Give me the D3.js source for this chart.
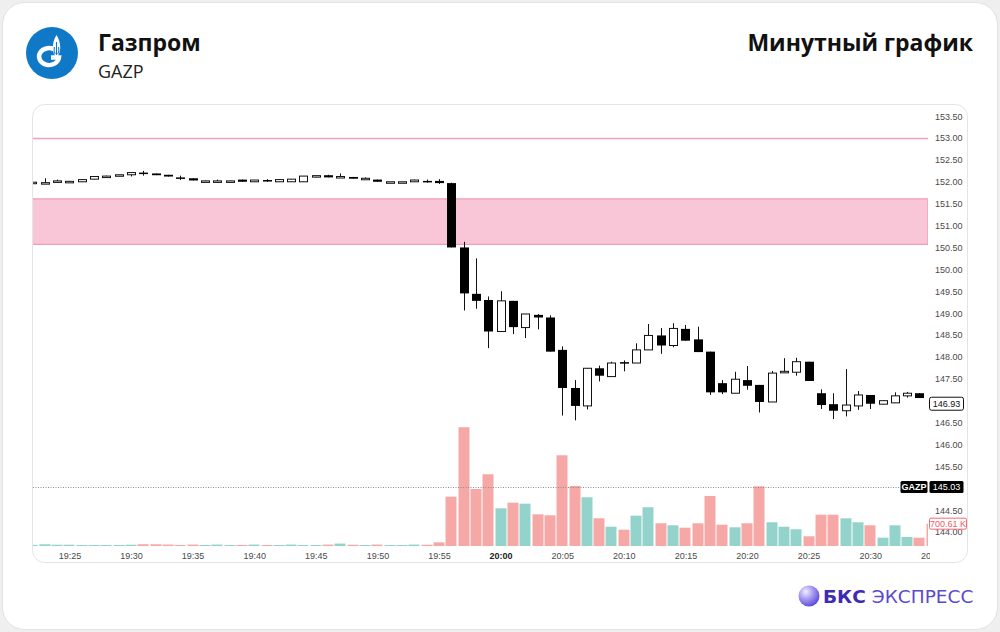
<!DOCTYPE html>
<html>
<head>
<meta charset="utf-8">
<script src="https://cdn.jsdelivr.net/npm/d3@7"></script>
<style>
  body { margin: 0; background: #efefef; }
  svg { display: block; font-family: "Open Sans", sans-serif; }
</style>
</head>
<body>
<svg id="chart" width="1000" height="632"></svg>
<script>
// minute candles, GAZP
const times = ["19:22","19:23","19:24","19:25","19:26","19:27","19:28","19:29","19:30","19:31",
  "19:32","19:33","19:34","19:35","19:36","19:37","19:38","19:39","19:40","19:41",
  "19:42","19:43","19:44","19:45","19:46","19:47","19:48","19:49","19:50","19:51",
  "19:52","19:53","19:54","19:55","19:56","19:57","19:58","19:59","20:00","20:01",
  "20:02","20:03","20:04","20:05","20:06","20:07","20:08","20:09","20:10","20:11",
  "20:12","20:13","20:14","20:15","20:16","20:17","20:18","20:19","20:20","20:21",
  "20:22","20:23","20:24","20:25","20:26","20:27","20:28","20:29","20:30","20:31",
  "20:32","20:33","20:34","20:35"];
const opens = [151.96,151.98,152.02,152.01,152.00,152.06,152.13,152.13,152.16,152.21,
  152.19,152.16,152.10,152.08,152.02,152.02,152.02,152.05,152.00,152.04,
  152.00,152.00,152.00,152.14,152.15,152.12,152.11,152.08,152.05,152.00,
  152.00,152.00,152.02,152.02,151.97,150.50,149.44,149.30,148.58,149.28,
  148.67,148.96,148.90,148.16,147.29,146.88,147.74,147.55,147.88,147.86,
  148.16,148.49,148.26,148.64,148.40,148.12,147.40,147.17,147.47,147.36,
  146.97,147.67,147.65,147.89,147.17,146.92,146.77,146.88,147.13,146.92,
  146.95,147.11,147.17,147.06];
const highs = [151.99,152.08,152.05,152.02,152.05,152.12,152.14,152.16,152.21,152.25,
  152.19,152.16,152.14,152.08,152.03,152.05,152.03,152.05,152.04,152.06,
  152.05,152.06,152.13,152.14,152.16,152.19,152.11,152.10,152.05,152.00,
  152.00,152.05,152.05,152.06,151.98,150.63,150.25,149.38,149.50,149.28,
  148.98,148.98,148.95,148.24,147.47,147.74,147.80,147.89,147.92,148.31,
  148.75,148.66,148.77,148.73,148.69,148.12,147.47,147.66,147.79,147.36,
  147.68,147.97,147.98,147.89,147.26,147.17,147.72,147.22,147.13,147.00,
  147.19,147.20,147.17,147.08];
const lows = [151.96,151.98,152.00,152.01,152.00,152.06,152.12,152.13,152.12,152.14,
  152.15,152.12,152.04,152.03,152.02,152.00,152.02,152.00,152.00,152.00,
  152.00,152.00,152.00,152.10,152.10,152.12,152.07,152.06,152.00,152.00,
  152.00,152.00,151.98,151.95,150.50,149.06,149.10,148.20,148.58,148.52,
  148.43,148.63,148.12,146.66,146.55,146.80,147.44,147.55,147.67,147.86,
  148.16,148.07,148.22,148.37,148.11,147.13,147.15,147.17,147.25,146.73,
  146.97,147.63,147.57,147.45,146.81,146.58,146.64,146.79,146.81,146.92,
  146.95,147.07,147.06,146.93];
const closes = [151.99,151.98,152.02,152.01,152.05,152.12,152.13,152.16,152.21,152.19,
  152.15,152.12,152.09,152.03,152.02,152.02,152.02,152.00,152.04,152.03,
  152.05,152.06,152.13,152.14,152.10,152.12,152.07,152.08,152.00,152.00,
  152.00,152.04,152.01,151.97,150.50,149.45,149.28,148.58,149.28,148.68,
  148.98,148.90,148.12,147.29,146.88,147.74,147.57,147.86,147.86,148.16,
  148.49,148.26,148.65,148.37,148.11,147.19,147.19,147.49,147.34,146.97,
  147.63,147.67,147.89,147.45,146.90,146.77,146.90,147.13,146.93,147.00,
  147.11,147.17,147.06,146.93];
// volume, thousands of shares
const volumes = [35,55,40,40,30,30,30,30,40,55,
  55,45,30,45,30,45,30,30,45,30,
  30,45,30,30,45,75,40,30,45,30,
  30,45,40,115,1549,3729,1790,2252,1184,1360,
  1329,996,964,2849,1885,1530,870,606,512,952,
  1216,713,650,575,713,1571,669,587,713,1875,
  745,606,525,305,983,983,870,745,650,261,
  650,283,261,700.61];

// 147.00 and 145.00 sit under the price labels, so they are not shown
const priceTicks = [144,144.5,145.5,146,146.5,147.5,148,148.5,149,149.5,150,150.5,151,151.5,152,152.5,153,153.5];
const timeTicks = ["19:25","19:30","19:35","19:40","19:45","19:50","19:55","20:00","20:05","20:10","20:15","20:20","20:25","20:30","20:35"];
const levelLine = 153.00;
const zoneTop = 151.61, zoneBottom = 150.57;
const refLine = 145.03;
const lastVolumeLabel = "700.61 K";

const svg = d3.select("#chart");
const parseT = d3.timeParse("%H:%M");
const axisFont = "Liberation Sans, Arial, sans-serif";

// card
svg.append("rect").attr("x", 2.5).attr("y", 2.5).attr("width", 995).attr("height", 627)
  .attr("rx", 22).attr("fill", "#fff").attr("stroke", "#e2e2e2");
const defs = svg.append("defs");

// header
const logo = svg.append("g").attr("transform", "translate(52,53)");
logo.append("circle").attr("r", 26).attr("fill", "#0f79c8");
logo.append("path").attr("d", "M 3.4 -3 A 10 8.5 0 1 0 7 4.5 L -1 4.5")
  .attr("fill", "none").attr("stroke", "#fff").attr("stroke-width", 4.4);
logo.append("path").attr("d", "M 4.5 -18 C 9.5 -10 9.5 0 4.5 4 C -0.5 0 -0.5 -10 4.5 -18 Z").attr("fill", "#fff");
logo.append("path").attr("d", "M 4.5 -11 L 4.5 2 M 2.4 -6 C 1.7 -3 2 -1 3.2 1 M 6.6 -6 C 7.3 -3 7 -1 5.8 1")
  .attr("fill", "none").attr("stroke", "#0f79c8").attr("stroke-width", 1.1);

svg.append("text").attr("x", 98).attr("y", 51).attr("font-size", 23).attr("font-weight", 700)
  .attr("fill", "#111").text("Газпром");
svg.append("text").attr("x", 98).attr("y", 78).attr("font-size", 18)
  .attr("fill", "#222").text("GAZP");
svg.append("text").attr("x", 973).attr("y", 51).attr("font-size", 23).attr("font-weight", 700)
  .attr("text-anchor", "end").attr("fill", "#111").text("Минутный график");

// chart panel
svg.append("rect").attr("x", 32.5).attr("y", 104.5).attr("width", 935).attr("height", 458)
  .attr("rx", 12).attr("fill", "#fff").attr("stroke", "#e4e4e4");

const x = d3.scaleTime().domain([parseT("19:55"), parseT("20:30")]).range([439, 870.2]);
const y = d3.scaleLinear().domain([144, 153]).range([532, 138]);
const yv = d3.scaleLinear().domain([0, 4000]).range([546, 418.6]);

defs.append("clipPath").attr("id", "plot")
  .append("rect").attr("x", 33).attr("y", 105).attr("width", 895).attr("height", 442);
// in the axis group's own coordinates (it is translated to y=547)
defs.append("clipPath").attr("id", "timeClip")
  .append("rect").attr("x", 33).attr("y", 0).attr("width", 897).attr("height", 16);

const plot = svg.append("g").attr("clip-path", "url(#plot)");

// price axis labels
const yAxis = svg.append("g").attr("transform", "translate(928,0)")
  .call(d3.axisRight(y).tickValues(priceTicks).tickFormat(d3.format(".2f")).tickSize(0).tickPadding(7));
yAxis.select(".domain").remove();
yAxis.selectAll("text").attr("font-family", axisFont)
  .attr("font-size", 9).attr("fill", "#4a4a4a");

// time axis labels
const isHour = d => d3.timeFormat("%M")(d) === "00";
const xAxis = svg.append("g").attr("transform", "translate(0,547)").attr("clip-path", "url(#timeClip)")
  .call(d3.axisBottom(x).tickValues(timeTicks.map(parseT)).tickFormat(d3.timeFormat("%H:%M")).tickSize(0).tickPadding(6));
xAxis.select(".domain").remove();
xAxis.selectAll("text").attr("font-family", axisFont).attr("font-size", 9)
  .attr("font-weight", d => isHour(d) ? 700 : 400)
  .attr("fill", d => isHour(d) ? "#222" : "#4a4a4a");

// level line and zone
plot.append("line").attr("x1", 32).attr("x2", 928).attr("y1", Math.round(y(levelLine)) + 0.5).attr("y2", Math.round(y(levelLine)) + 0.5)
  .attr("stroke", "#f5a0bf").attr("stroke-width", 1.3);
plot.append("rect").attr("x", 32).attr("width", 896)
  .attr("y", y(zoneTop)).attr("height", y(zoneBottom) - y(zoneTop))
  .attr("fill", "#f9c6d7").attr("stroke", "#f29ab9").attr("stroke-width", 1.2);

const data = times.map((t, i) => ({
  t: parseT(t), o: opens[i], h: highs[i], l: lows[i], c: closes[i], v: volumes[i]
}));
const cx = d => Math.round(x(d.t));

// volume
plot.append("g").selectAll("rect").data(data).enter().append("rect")
  .attr("x", d => cx(d) - 5.5).attr("width", 11)
  .attr("y", d => Math.min(yv(d.v), 545))
  .attr("height", d => Math.max(546 - yv(d.v), 1))
  .attr("fill", d => d.c >= d.o ? "#93d3cb" : "#f6a8a6");

// dotted reference line
svg.append("line").attr("x1", 33).attr("x2", 900).attr("y1", Math.round(y(refLine)) + 0.5).attr("y2", Math.round(y(refLine)) + 0.5)
  .attr("stroke", "#8c8c8c").attr("stroke-dasharray", "1,1.5");

// candles
const candles = plot.append("g").selectAll("g").data(data).enter().append("g");
candles.append("line")
  .attr("x1", d => cx(d) + 0.5).attr("x2", d => cx(d) + 0.5)
  .attr("y1", d => y(d.h)).attr("y2", d => y(d.l))
  .attr("stroke", "#111").attr("stroke-width", 1);
candles.append("rect")
  .attr("x", d => d.c >= d.o ? cx(d) - 3.5 : cx(d) - 4)
  .attr("width", d => d.c >= d.o ? 8 : 9)
  .attr("y", d => y(Math.max(d.o, d.c)))
  .attr("height", d => Math.max(y(Math.min(d.o, d.c)) - y(Math.max(d.o, d.c)), 1.5))
  .attr("fill", d => d.c >= d.o ? "#fff" : "#000")
  .attr("stroke", d => d.c >= d.o ? "#111" : "none")
  .attr("stroke-width", 1);

// price labels on the axis
const last = data[data.length - 1];
const lastY = y(last.c);
svg.append("rect").attr("x", 929.5).attr("y", lastY - 6.5).attr("width", 34).attr("height", 13)
  .attr("rx", 2).attr("fill", "#fff").attr("stroke", "#111");
svg.append("text").attr("x", 946.5).attr("y", lastY + 3.2).attr("text-anchor", "middle")
  .attr("font-family", axisFont).attr("font-size", 9).attr("fill", "#111")
  .text(last.c.toFixed(2));

const refY = y(refLine);
svg.append("rect").attr("x", 900.5).attr("y", refY - 6).attr("width", 27).attr("height", 12).attr("rx", 1.5).attr("fill", "#000");
svg.append("text").attr("x", 914).attr("y", refY + 3.2).attr("text-anchor", "middle")
  .attr("font-family", axisFont).attr("font-size", 9).attr("font-weight", 700)
  .attr("fill", "#fff").text("GAZP");
svg.append("rect").attr("x", 929.5).attr("y", refY - 6).attr("width", 34).attr("height", 12).attr("rx", 1.5).attr("fill", "#000");
svg.append("text").attr("x", 946.5).attr("y", refY + 3.2).attr("text-anchor", "middle")
  .attr("font-family", axisFont).attr("font-size", 9)
  .attr("fill", "#fff").text(refLine.toFixed(2));

const volY = yv(last.v);
svg.append("rect").attr("x", 929.5).attr("y", volY - 5.5).attr("width", 37).attr("height", 11)
  .attr("rx", 1.5).attr("fill", "#fff").attr("stroke", "#f26b72");
svg.append("text").attr("x", 948).attr("y", volY + 3).attr("text-anchor", "middle")
  .attr("font-family", axisFont).attr("font-size", 9)
  .attr("fill", "#ef5a62").text(lastVolumeLabel);

// brand mark
const grad = defs.append("radialGradient").attr("id", "ball")
  .attr("cx", "35%").attr("cy", "30%").attr("r", "75%");
grad.append("stop").attr("offset", "0%").attr("stop-color", "#f1eeff");
grad.append("stop").attr("offset", "45%").attr("stop-color", "#a99cf2");
grad.append("stop").attr("offset", "100%").attr("stop-color", "#5a45d6");
svg.append("circle").attr("cx", 809).attr("cy", 596).attr("r", 10.5).attr("fill", "url(#ball)");
const brand = svg.append("text").attr("x", 823).attr("y", 602.5).attr("font-size", 18.5)
  .attr("font-family", "DejaVu Sans, sans-serif");
brand.append("tspan").attr("font-weight", 700).attr("fill", "#3e2db3").text("БКС");
brand.append("tspan").attr("dx", 6).attr("fill", "#5a4bcc").text("ЭКСПРЕСС");
</script>
</body>
</html>
